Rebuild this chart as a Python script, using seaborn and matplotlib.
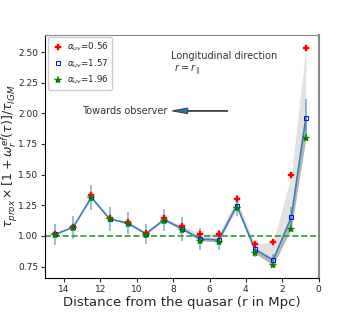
import numpy as np
import pandas as pd
import matplotlib
matplotlib.use("Agg")
import matplotlib.pyplot as plt
import seaborn as sns

sns.set_style("ticks")
plt.rcParams['font.family'] = ['DejaVu Sans']

r = [14.5, 13.5, 12.5, 11.5, 10.5, 9.5, 8.5, 7.5, 6.5, 5.5, 4.5, 3.5, 2.5, 1.5, 0.7]
red = [1.019, 1.072, 1.333, 1.145, 1.117, 1.027, 1.145, 1.084, 1.016, 1.016, 1.302, 0.935, 0.951, 1.493, 2.535]
blue = [1.013, 1.069, 1.315, 1.139, 1.105, 1.018, 1.133, 1.058, 0.975, 0.967, 1.248, 0.891, 0.804, 1.153, 1.965]
green = [1.011, 1.068, 1.308, 1.136, 1.098, 1.011, 1.125, 1.049, 0.959, 0.951, 1.231, 0.859, 0.760, 1.060, 1.795]
err = [0.085, 0.095, 0.10, 0.095, 0.09, 0.08, 0.09, 0.10, 0.09, 0.085, 0.085, 0.06, 0.05, 0.08, 0.15]
labels = [r'$\alpha_{uv}$=0.56', r'$\alpha_{uv}$=1.57', r'$\alpha_{uv}$=1.96']

df = pd.DataFrame({'r': r, 'red': red, 'blue': blue, 'green': green, 'err': err})

fig = plt.figure(figsize=(3.54, 3.14), dpi=100)
ax = fig.add_axes([0.127, 0.114, 0.773, 0.775])

ax.fill_between(df['r'], df['green'], df['red'], color='#d9d9d9', alpha=0.75, lw=0, zorder=1)
ax.fill_between(df['r'], df['green'], df['blue'], color='#999999', alpha=0.6, lw=0, zorder=1)

ax.errorbar(df['r'], df['blue'], yerr=df['err'], fmt='none', ecolor='#1f77b4', alpha=0.55, lw=1.2, zorder=2)
sns.lineplot(x='r', y='blue', data=df, ax=ax, color='#3a7fb5', lw=1.2, zorder=3, sort=False, legend=False)

ax.axhline(1.0, color='#2ca02c', ls='--', lw=1.2, zorder=2)

ax.plot(df['r'], df['red'], ls='none', marker='P', ms=4, mew=0.3, color='red', label=labels[0], zorder=5)
ax.plot(df['r'], df['blue'], ls='none', marker='s', ms=2.8, mfc='none', mec='blue', mew=0.7, label=labels[1], zorder=4)
ax.plot(df['r'], df['green'], ls='none', marker='*', ms=6, mew=0.3, color='green', label=labels[2], zorder=5)

ax.set_xlim(15.05, 0)
ax.set_ylim(0.655, 2.64)
ax.set_xticks([14, 12, 10, 8, 6, 4, 2, 0])
ax.set_yticks([0.75, 1.0, 1.25, 1.5, 1.75, 2.0, 2.25, 2.5])
ax.set_yticklabels(['0.75', '1.00', '1.25', '1.50', '1.75', '2.00', '2.25', '2.50'])
ax.tick_params(labelsize=6.5, length=3, width=0.8, pad=2)

ax.set_xlabel('Distance from the quasar (r in Mpc)', fontsize=9.5, labelpad=1)
ax.set_ylabel(r'$\tau_{prox} \times [1 + \omega_r^{ef}(\tau)]/\tau_{IGM}$', fontsize=9)
ax.yaxis.set_label_coords(-0.095, 0.5)

for s in ['top', 'right']:
    ax.spines[s].set_color('#888888')
ax.spines['right'].set_linewidth(1.5)
for s in ['left', 'bottom']:
    ax.spines[s].set_color('black')

ax.legend(loc='upper left', fontsize=6.3, handletextpad=0.2, borderpad=0.4, labelspacing=0.45,
          handlelength=1.6, framealpha=1, borderaxespad=0.3)

ax.text(8.1, 2.4, 'Longitudinal direction\n $r=r_\\parallel$', fontsize=7, color='#333333', ha='left', va='center', linespacing=1.2)
ax.text(13.0, 2.02, 'Towards observer', fontsize=7, color='#333333', ha='left', va='center')
ax.arrow(5.0, 2.02, 3.05, 0, width=0.004, head_width=0.045, head_length=0.85,
         fc='#1f77b4', ec='#444444', lw=0.8, length_includes_head=True, zorder=5)

fig.savefig('out.png', dpi=100)
